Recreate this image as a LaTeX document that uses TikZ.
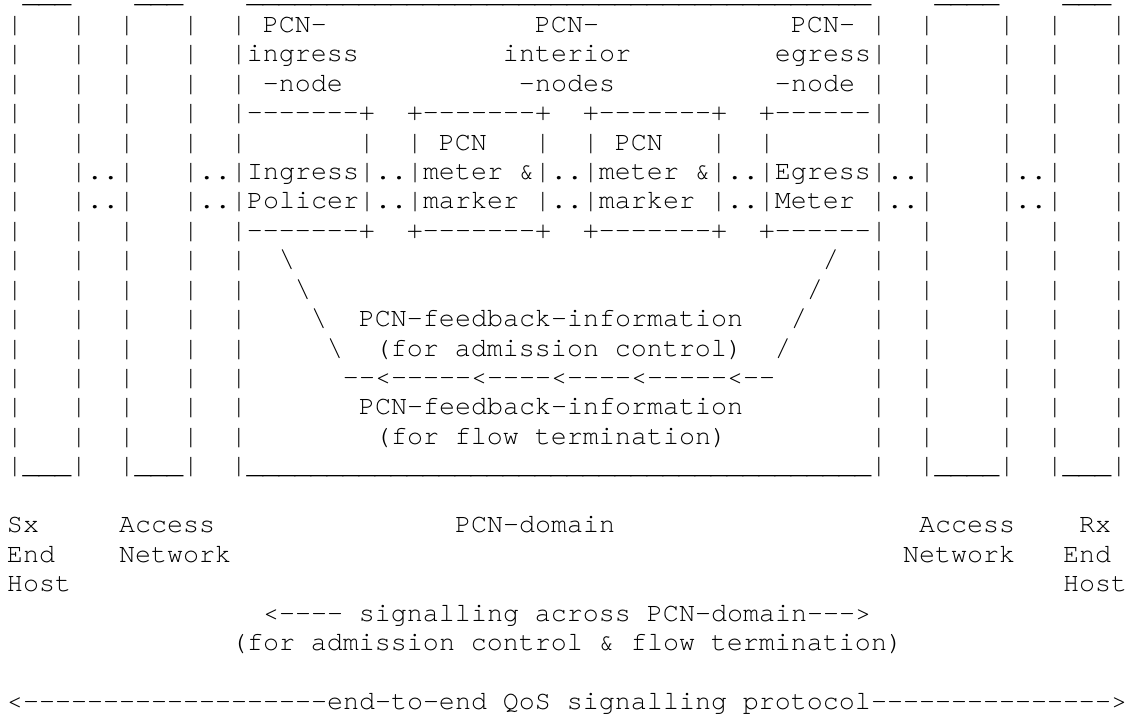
\documentclass[tikz,border=0pt]{standalone}
\usepackage{graphicx}
\usepackage{fontspec}
\newfontfamily\cursorfont{texgyrecursor}[Extension=.otf, UprightFont=*-regular]
\makeatletter
% monospaced cells: every character sits in a 16pt wide cell
\newcount\monorepc
\def\monoend{MONOEND}
\def\Rp{RPMARK}
\newcommand\monocell[1]{\makebox[16pt][c]{#1}}
\def\monoput#1{%
  \ifx#1|\monocell{|}%
  \else\ifx#1\_\monocell{\scalebox{1.04}[1]{\_}}%
  \else\monocell{#1}\fi\fi}
\def\mono#1{\monoloop#1\monoend}
\def\monoloop#1{%
  \ifx#1\monoend\let\mono@next\relax
  \else\ifx#1\Rp\let\mono@next\monorep
  \else\monoput{#1}\let\mono@next\monoloop
  \fi\fi\mono@next}
\def\monorep#1#2{\monorepc=#1\relax
  \loop\ifnum\monorepc>0 \monoput{#2}\advance\monorepc-1 \repeat
  \monoloop}
\makeatother
\tikzset{asc/.style={anchor=base west, inner sep=0pt, outer sep=0pt,
  font=\cursorfont\fontsize{26.67}{29}\selectfont, text=black}}
% \asc{name}{column}{line}{characters}
\newcommand\asc[4]{\node[asc] (#1) at ({7+16*#2},{-2.8-29.44*(#3-1)}) {\mono{#4}};}
% a row of the boxes: outer boxes + interior of the PCN-domain box
\newcommand\boxline[3]{\asc{#1}{0}{#2}{|\Rp{3}~|~~|\Rp{3}~|~~|#3|~~|\Rp{4}~|~~|\Rp{3}~|}}
\begin{document}
\begin{tikzpicture}[x=1pt,y=1pt]
\fill[white] (0,0) rectangle (1130,-713);
\useasboundingbox (0,0) rectangle (1130,-713);
\asc{l1}{0}{1}{~\Rp{3}\_\Rp{4}~\Rp{3}\_\Rp{4}~\Rp{39}\_\Rp{4}~\Rp{4}\_\Rp{4}~\Rp{3}\_}
\boxline{l2}{2}{~PCN-\Rp{13}~PCN-\Rp{12}~PCN-~}
\boxline{l3}{3}{ingress\Rp{9}~interior\Rp{9}~egress}
\boxline{l4}{4}{~-node\Rp{11}~-nodes\Rp{10}~-node~}
\boxline{l5}{5}{\Rp{7}-+~~+\Rp{7}-+~~+\Rp{7}-+~~+\Rp{6}-}
\boxline{l6}{6}{\Rp{7}~|~~|~PCN~~~|~~|~PCN~~~|~~|\Rp{6}~}
\asc{l7}{0}{7}{|\Rp{3}~|..|\Rp{3}~|..|Ingress|..|meter~\&|..|meter~\&|..|Egress|..|\Rp{4}~|..|\Rp{3}~|}
\asc{l8}{0}{8}{|\Rp{3}~|..|\Rp{3}~|..|Policer|..|marker~|..|marker~|..|Meter~|..|\Rp{4}~|..|\Rp{3}~|}
\boxline{l9}{9}{\Rp{7}-+~~+\Rp{7}-+~~+\Rp{7}-+~~+\Rp{6}-}
\boxline{l10}{10}{~~\textbackslash\Rp{33}~/~~}
\boxline{l11}{11}{~~~\textbackslash\Rp{31}~/~~~}
\boxline{l12}{12}{\Rp{4}~\textbackslash~~PCN-feedback-information~~~/\Rp{4}~}
\boxline{l13}{13}{\Rp{5}~\textbackslash~~(for~admission~control)~~/\Rp{5}~}
\boxline{l14}{14}{\Rp{6}~--<\Rp{5}-<\Rp{4}-<\Rp{4}-<\Rp{5}-<--\Rp{6}~}
\boxline{l15}{15}{\Rp{7}~PCN-feedback-information\Rp{8}~}
\boxline{l16}{16}{\Rp{8}~(for~flow~termination)\Rp{9}~}
\asc{l17}{0}{17}{|\Rp{3}\_|~~|\Rp{3}\_|~~|\Rp{39}\_|~~|\Rp{4}\_|~~|\Rp{3}\_|}
\asc{sx}{0}{19}{Sx}
\asc{send}{0}{20}{End}
\asc{shost}{0}{21}{Host}
\asc{acc1}{7}{19}{Access}
\asc{net1}{7}{20}{Network}
\asc{dom}{28}{19}{PCN-domain}
\asc{acc2}{57}{19}{Access}
\asc{net2}{56}{20}{Network}
\asc{rx}{67}{19}{Rx}
\asc{rend}{66}{20}{End}
\asc{rhost}{66}{21}{Host}
\asc{sig}{16}{22}{<----~signalling~across~PCN-domain--->}
\asc{sigb}{14}{23}{(for~admission~control~\&~flow~termination)}
\asc{e2e}{0}{25}{<\Rp{19}-end-to-end~QoS~signalling~protocol\Rp{15}->}
\end{tikzpicture}
\end{document}
